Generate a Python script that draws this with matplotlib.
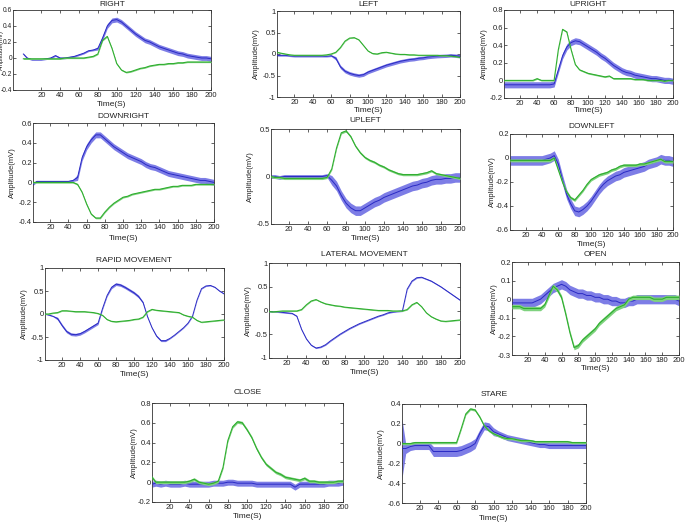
import numpy as np
import matplotlib
matplotlib.use("Agg")
import matplotlib.pyplot as plt

plt.rcParams['font.family'] = ['Liberation Sans', 'DejaVu Sans']
plt.rcParams['axes.unicode_minus'] = False

# time samples (s)
T = [1, 5, 10, 15, 20, 25, 30, 35, 40, 45, 50, 55, 60, 65, 70, 75, 80, 85, 90, 95, 100,
     105, 110, 115, 120, 125, 130, 135, 140, 145, 150, 155, 160, 165, 170, 175, 180,
     185, 190, 195, 200]

XTICKS = [20, 40, 60, 80, 100, 120, 140, 160, 180, 200]

# ---------------- RIGHT ----------------
right_blue = [0.05, 0.0, -0.02, -0.02, -0.02, -0.01, 0.0, 0.03, 0.0, 0.0, 0.01, 0.02, 0.04, 0.06,
              0.09, 0.1, 0.12, 0.25, 0.4, 0.47, 0.48, 0.45, 0.4, 0.35, 0.3, 0.26, 0.22, 0.2,
              0.17, 0.14, 0.12, 0.1, 0.08, 0.06, 0.05, 0.03, 0.02, 0.01, 0.0, 0.0, -0.01]
right_blue_band = [0.01, 0.01, 0.01, 0.01, 0.01, 0.01, 0.01, 0.01, 0.01, 0.01, 0.01, 0.01, 0.01,
                   0.01, 0.01, 0.01, 0.02, 0.03, 0.03, 0.03, 0.03, 0.03, 0.03, 0.03, 0.03, 0.03,
                   0.03, 0.03, 0.03, 0.03, 0.03, 0.03, 0.03, 0.03, 0.03, 0.03, 0.03, 0.03, 0.03,
                   0.03, 0.03]
right_green = [-0.01, -0.01, -0.01, -0.01, -0.01, -0.01, -0.01, -0.01, -0.01, 0.0, 0.0, 0.0, 0.0,
               0.0, 0.01, 0.02, 0.05, 0.22, 0.27, 0.12, -0.07, -0.15, -0.18, -0.17, -0.15, -0.13,
               -0.12, -0.1, -0.09, -0.08, -0.08, -0.07, -0.07, -0.06, -0.06, -0.05, -0.05, -0.05,
               -0.05, -0.05, -0.05]

# ---------------- LEFT ----------------
left_blue = [-0.03, -0.03, -0.03, -0.04, -0.05, -0.05, -0.05, -0.05, -0.05, -0.05, -0.05, -0.05,
             -0.04, -0.1, -0.3, -0.4, -0.45, -0.48, -0.5, -0.48, -0.42, -0.38, -0.34, -0.3, -0.26,
             -0.23, -0.2, -0.17, -0.15, -0.13, -0.12, -0.1, -0.09, -0.07, -0.06, -0.05, -0.045,
             -0.04, -0.03, -0.04, -0.05]
left_blue_band = [0.02, 0.02, 0.02, 0.02, 0.02, 0.02, 0.02, 0.02, 0.02, 0.02, 0.02, 0.02, 0.02,
                  0.04, 0.04, 0.04, 0.04, 0.04, 0.04, 0.04, 0.04, 0.04, 0.04, 0.04, 0.04, 0.04,
                  0.04, 0.04, 0.04, 0.04, 0.04, 0.04, 0.04, 0.04, 0.04, 0.04, 0.04, 0.04, 0.04,
                  0.04, 0.04]
left_green = [0.04, 0.02, 0.0, -0.02, -0.03, -0.03, -0.03, -0.03, -0.03, -0.03, -0.03, -0.02, 0.0,
              0.04, 0.15, 0.3, 0.37, 0.38, 0.33, 0.2, 0.07, 0.01, 0.0, 0.03, 0.04, 0.02, 0.0,
              -0.01, -0.01, -0.02, -0.02, -0.03, -0.03, -0.03, -0.03, -0.03, -0.04, -0.04, -0.05,
              -0.06, -0.08]

# ---------------- UPRIGHT ----------------
upright_blue = [-0.05, -0.05, -0.05, -0.05, -0.05, -0.05, -0.05, -0.05, -0.05, -0.05, -0.05, -0.05,
                -0.04, 0.12, 0.28, 0.38, 0.43, 0.45, 0.44, 0.41, 0.38, 0.35, 0.32, 0.28, 0.25,
                0.21, 0.17, 0.14, 0.11, 0.09, 0.08, 0.06, 0.05, 0.04, 0.03, 0.02, 0.02, 0.01,
                0.0, 0.0, -0.01]
upright_green = [0.0, 0.0, 0.0, 0.0, 0.0, 0.0, 0.0, 0.0, 0.02, 0.0, 0.0, 0.0, 0.0, 0.35, 0.58,
                 0.55, 0.35, 0.18, 0.12, 0.1, 0.08, 0.07, 0.06, 0.05, 0.04, 0.05, 0.02, 0.02,
                 0.02, 0.02, 0.02, 0.01, 0.01, 0.01, 0.0, 0.0, 0.0, 0.0, -0.01, 0.0, 0.0]

# ---------------- DOWNRIGHT ----------------
downright_blue = [-0.02, 0.01, 0.01, 0.01, 0.01, 0.01, 0.01, 0.01, 0.01, 0.02, 0.05, 0.25, 0.36,
                  0.43, 0.48, 0.48, 0.44, 0.4, 0.36, 0.33, 0.3, 0.27, 0.25, 0.23, 0.21, 0.18,
                  0.16, 0.15, 0.13, 0.11, 0.09, 0.08, 0.07, 0.06, 0.05, 0.04, 0.03, 0.02, 0.02,
                  0.01, 0.0]
downright_blue_band = [0.01, 0.01, 0.01, 0.01, 0.01, 0.01, 0.01, 0.01, 0.01, 0.01, 0.03, 0.03,
                       0.03, 0.03, 0.03, 0.03, 0.03, 0.03, 0.03, 0.03, 0.03, 0.03, 0.03, 0.03,
                       0.03, 0.03, 0.03, 0.03, 0.03, 0.03, 0.03, 0.03, 0.03, 0.03, 0.03, 0.03,
                       0.03, 0.03, 0.03, 0.03, 0.03]
downright_green = [0.0, 0.0, 0.0, 0.0, 0.0, 0.0, 0.0, 0.0, 0.0, 0.0, -0.02, -0.1, -0.22, -0.32,
                   -0.36, -0.36, -0.3, -0.25, -0.21, -0.18, -0.15, -0.14, -0.12, -0.11, -0.1,
                   -0.09, -0.08, -0.07, -0.07, -0.06, -0.05, -0.04, -0.04, -0.03, -0.03, -0.03,
                   -0.02, -0.02, -0.02, -0.02, -0.02]

# ---------------- UPLEFT ----------------
upleft_blue = [0.0, 0.0, -0.01, 0.0, 0.0, 0.0, 0.0, 0.0, 0.0, 0.0, 0.0, 0.0, 0.01, -0.04, -0.1,
               -0.2, -0.28, -0.33, -0.36, -0.36, -0.33, -0.3, -0.27, -0.25, -0.22, -0.2, -0.18,
               -0.16, -0.14, -0.12, -0.1, -0.09, -0.07, -0.06, -0.04, -0.03, -0.03, -0.02, -0.02,
               -0.01, -0.01]
upleft_blue_band = [0.02, 0.02, 0.02, 0.02, 0.02, 0.02, 0.02, 0.02, 0.02, 0.02, 0.02, 0.02, 0.02,
                    0.05, 0.05, 0.05, 0.05, 0.05, 0.05, 0.05, 0.05, 0.05, 0.05, 0.05, 0.05, 0.05,
                    0.05, 0.05, 0.05, 0.05, 0.05, 0.05, 0.05, 0.05, 0.05, 0.05, 0.05, 0.05, 0.05,
                    0.05, 0.05]
upleft_green = [0.0, -0.01, -0.01, -0.02, -0.02, -0.02, -0.02, -0.02, -0.02, -0.02, -0.02, -0.02,
                -0.01, 0.08, 0.3, 0.46, 0.48, 0.42, 0.32, 0.25, 0.2, 0.17, 0.15, 0.12, 0.1, 0.07,
                0.05, 0.03, 0.02, 0.02, 0.02, 0.02, 0.03, 0.04, 0.06, 0.03, 0.02, 0.01, 0.0,
                -0.01, -0.02]

# ---------------- DOWNLEFT ----------------
downleft_blue = [-0.02, -0.02, -0.02, -0.02, -0.02, -0.02, -0.02, -0.02, -0.02, -0.01, 0.0, 0.02,
                 -0.05, -0.18, -0.3, -0.38, -0.44, -0.45, -0.43, -0.4, -0.36, -0.31, -0.26, -0.22,
                 -0.19, -0.17, -0.15, -0.14, -0.12, -0.11, -0.1, -0.09, -0.08, -0.07, -0.05,
                 -0.04, -0.03, -0.01, -0.02, -0.02, -0.03]
downleft_green = [-0.02, -0.02, -0.02, -0.02, -0.02, -0.02, -0.02, -0.02, -0.02, -0.02, -0.02,
                  0.0, -0.1, -0.2, -0.28, -0.33, -0.35, -0.31, -0.27, -0.22, -0.18, -0.16, -0.14,
                  -0.13, -0.12, -0.1, -0.09, -0.07, -0.06, -0.06, -0.06, -0.06, -0.05, -0.05,
                  -0.04, -0.03, -0.02, -0.01, -0.03, -0.03, -0.03]

# ---------------- RAPID MOVEMENT ----------------
rapid_blue = [0.0, -0.02, -0.05, -0.1, -0.25, -0.38, -0.44, -0.45, -0.43, -0.38, -0.32, -0.26,
              -0.2, 0.12, 0.4, 0.58, 0.65, 0.63, 0.58, 0.52, 0.46, 0.38, 0.25, -0.06, -0.3, -0.48,
              -0.58, -0.58, -0.53, -0.46, -0.38, -0.3, -0.2, -0.05, 0.3, 0.55, 0.61, 0.62, 0.58,
              0.5, 0.44]
rapid_blue_band = [0.01, 0.01, 0.01, 0.03, 0.03, 0.03, 0.03, 0.03, 0.03, 0.03, 0.03, 0.03, 0.03,
                   0.02, 0.02, 0.03, 0.03, 0.03, 0.03, 0.03, 0.03, 0.03, 0.02, 0.01, 0.01, 0.02,
                   0.02, 0.02, 0.01, 0.01, 0.01, 0.01, 0.01, 0.01, 0.01, 0.01, 0.01, 0.01, 0.01,
                   0.01, 0.01]
rapid_green = [0.0, 0.0, 0.02, 0.03, 0.07, 0.07, 0.06, 0.05, 0.05, 0.05, 0.04, 0.03, 0.01, -0.03,
               -0.12, -0.16, -0.17, -0.16, -0.15, -0.14, -0.12, -0.11, -0.07, 0.05, 0.1, 0.08,
               0.07, 0.06, 0.05, 0.04, 0.03, -0.02, -0.05, -0.07, -0.14, -0.18, -0.17, -0.16,
               -0.15, -0.14, -0.13]

# ---------------- LATERAL MOVEMENT ----------------
lateral_blue = [-0.02, -0.03, -0.03, -0.04, -0.05, -0.06, -0.12, -0.4, -0.6, -0.73, -0.79, -0.77,
                -0.72, -0.64, -0.57, -0.5, -0.44, -0.38, -0.33, -0.28, -0.24, -0.2, -0.16, -0.12,
                -0.09, -0.05, -0.03, -0.02, -0.01, 0.45, 0.62, 0.69, 0.7, 0.66, 0.62, 0.56, 0.5,
                0.43, 0.36, 0.29, 0.22]
lateral_green = [-0.02, -0.03, -0.02, -0.01, -0.01, -0.01, -0.01, 0.02, 0.12, 0.2, 0.23, 0.18,
                 0.14, 0.12, 0.1, 0.09, 0.07, 0.06, 0.05, 0.04, 0.03, 0.02, 0.01, 0.0, 0.0, 0.0,
                 -0.01, -0.01, -0.01, 0.02, 0.12, 0.17, 0.08, -0.05, -0.13, -0.18, -0.22, -0.23,
                 -0.22, -0.21, -0.2]

# ---------------- OPEN ----------------
open_blue = [-0.02, -0.02, -0.02, -0.02, -0.02, -0.02, -0.01, 0.0, 0.02, 0.04, 0.06, 0.07, 0.08,
             0.07, 0.05, 0.04, 0.03, 0.03, 0.02, 0.02, 0.01, 0.01, 0.0, 0.0, -0.01, -0.01, -0.02,
             -0.02, -0.01, -0.01, 0.0, 0.0, 0.0, 0.0, 0.0, 0.0, 0.0, 0.0, 0.0, 0.0, -0.01]
open_green = [-0.04, -0.04, -0.04, -0.05, -0.05, -0.05, -0.05, -0.05, -0.03, 0.02, 0.07, 0.05,
              0.01, -0.08, -0.18, -0.26, -0.25, -0.22, -0.2, -0.18, -0.16, -0.13, -0.11, -0.09,
              -0.07, -0.05, -0.04, -0.03, 0.0, 0.01, 0.01, 0.01, 0.01, 0.01, 0.0, 0.0, 0.0, 0.01,
              0.01, 0.01, 0.01]

# ---------------- CLOSE ----------------
close_blue = [-0.02, -0.01, -0.02, -0.01, -0.02, -0.02, -0.02, -0.01, -0.02, -0.02, -0.02, -0.02,
              -0.02, -0.01, -0.01, -0.01, 0.0, 0.0, -0.01, -0.01, -0.01, -0.01, -0.02, -0.02,
              -0.02, -0.02, -0.02, -0.02, -0.02, -0.02, -0.05, -0.02, -0.02, -0.02, -0.02, -0.02,
              -0.02, -0.01, -0.01, -0.01, 0.0]
close_green = [0.05, 0.0, 0.0, 0.0, 0.0, 0.0, 0.0, 0.0, 0.01, 0.03, 0.0, -0.01, -0.02, -0.01,
               0.01, 0.15, 0.42, 0.56, 0.61, 0.6, 0.53, 0.45, 0.34, 0.25, 0.18, 0.14, 0.1, 0.08,
               0.05, 0.04, 0.03, 0.02, 0.04, 0.01, 0.01, 0.0, 0.0, 0.0, 0.0, 0.01, 0.01]

# ---------------- STARE ----------------
stare_blue = [-0.05, -0.05, -0.03, -0.02, -0.02, -0.02, -0.02, -0.08, -0.08, -0.08, -0.08, -0.08,
              -0.08, -0.07, -0.05, -0.03, 0.0, 0.1, 0.18, 0.17, 0.12, 0.1, 0.08, 0.06, 0.05, 0.04,
              0.03, 0.02, 0.01, 0.0, -0.01, -0.01, -0.02, -0.02, -0.02, -0.02, -0.02, -0.02,
              -0.02, -0.02, -0.02]
stare_blue_band = [0.3, 0.05, 0.04, 0.04, 0.04, 0.04, 0.04, 0.05, 0.05, 0.05, 0.05, 0.05, 0.05,
                   0.05, 0.05, 0.05, 0.05, 0.04, 0.04, 0.04, 0.04, 0.03, 0.03, 0.03, 0.03, 0.03,
                   0.03, 0.03, 0.03, 0.03, 0.03, 0.03, 0.03, 0.03, 0.03, 0.03, 0.03, 0.03, 0.03,
                   0.03, 0.03]
stare_green = [0.0, 0.0, 0.0, 0.01, 0.01, 0.01, 0.01, 0.01, 0.01, 0.01, 0.01, 0.01, 0.01, 0.15,
               0.3, 0.35, 0.34, 0.27, 0.18, 0.13, 0.1, 0.08, 0.06, 0.05, 0.05, 0.04, 0.03, 0.03,
               0.03, 0.02, 0.02, 0.02, 0.02, 0.02, 0.02, 0.02, 0.02, 0.01, 0.01, 0.01, 0.01]

# panel layout: title, box (L, T, R, B in px), ylim, yticks, data, label positions (px)
panels = [
    dict(title='RIGHT', box=(13, 10, 211, 90), xlim=(-10, 200), ylim=(-0.4, 0.6),
         yticks=[-0.4, -0.2, 0, 0.2, 0.4, 0.6], blue=right_blue, bband=right_blue_band,
         green=right_green, gband=0.008, tit_y=4, xl_y=105, yl_x=1.6, tfs=4.8, ylfs=4.3),
    dict(title='LEFT', box=(277, 11, 460, 97), xlim=(1, 200), ylim=(-1, 1),
         yticks=[-1, -0.5, 0, 0.5, 1], blue=left_blue, bband=left_blue_band,
         green=left_green, gband=0.01, tit_y=4, xl_y=110, yl_x=256, tfs=5.5, ylfs=5.5),
    dict(title='UPRIGHT', box=(504, 10, 673, 98), xlim=(1, 200), ylim=(-0.2, 0.8),
         yticks=[-0.2, 0, 0.2, 0.4, 0.6, 0.8], blue=upright_blue, bband=0.035,
         green=upright_green, gband=0.008, tit_y=4, xl_y=110, yl_x=484, tfs=5.5, ylfs=5.5),
    dict(title='DOWNRIGHT', box=(33, 123, 214, 222), xlim=(1, 200), ylim=(-0.4, 0.6),
         yticks=[-0.4, -0.2, 0, 0.2, 0.4, 0.6], blue=downright_blue, bband=downright_blue_band,
         green=downright_green, gband=0.008, tit_y=116, xl_y=239, yl_x=12, tfs=5.5, ylfs=5.5),
    dict(title='UPLEFT', box=(271, 129, 460, 224), xlim=(1, 200), ylim=(-0.5, 0.5),
         yticks=[-0.5, 0, 0.5], blue=upleft_blue, bband=upleft_blue_band,
         green=upleft_green, gband=0.012, tit_y=120, xl_y=239, yl_x=250, tfs=5.5, ylfs=5.5),
    dict(title='DOWNLEFT', box=(510, 134, 673, 230), xlim=(1, 200), ylim=(-0.6, 0.2),
         yticks=[-0.6, -0.4, -0.2, 0, 0.2], blue=downleft_blue, bband=0.04,
         green=downleft_green, gband=0.012, tit_y=127, xl_y=244, yl_x=492, tfs=5.5, ylfs=5.5),
    dict(title='RAPID MOVEMENT', box=(45, 268, 224, 360), xlim=(1, 200), ylim=(-1, 1),
         yticks=[-1, -0.5, 0, 0.5, 1], blue=rapid_blue, bband=rapid_blue_band,
         green=rapid_green, gband=0.01, tit_y=260, xl_y=374, yl_x=24, tfs=5.5, ylfs=5.5),
    dict(title='LATERAL MOVEMENT', box=(269, 263, 460, 358), xlim=(1, 200), ylim=(-1, 1),
         yticks=[-1, -0.5, 0, 0.5, 1], blue=lateral_blue, bband=0.012,
         green=lateral_green, gband=0.01, tit_y=254, xl_y=372, yl_x=248, tfs=5.5, ylfs=5.5),
    dict(title='OPEN', box=(512, 262, 679, 355), xlim=(1, 200), ylim=(-0.3, 0.2),
         yticks=[-0.3, -0.2, -0.1, 0, 0.1, 0.2], blue=open_blue, bband=0.025,
         green=open_green, gband=0.012, tit_y=254, xl_y=368, yl_x=494, tfs=5.5, ylfs=5.5),
    dict(title='CLOSE', box=(152, 403, 343, 502), xlim=(1, 200), ylim=(-0.2, 0.8),
         yticks=[-0.2, 0, 0.2, 0.4, 0.6, 0.8], blue=close_blue, bband=0.03,
         green=close_green, gband=0.015, tit_y=393, xl_y=517, yl_x=134, tfs=5.5, ylfs=5.5),
    dict(title='STARE', box=(402, 404, 586, 503), xlim=(1, 200), ylim=(-0.6, 0.4),
         yticks=[-0.6, -0.4, -0.2, 0, 0.2, 0.4], blue=stare_blue, bband=stare_blue_band,
         green=stare_green, gband=0.012, tit_y=395, xl_y=519, yl_x=381, tfs=5.5, ylfs=5.5),
]

W, H = 685, 524
BLUE, BLUE_BAND = '#2a2ac4', '#7d7de6'
GREEN, GREEN_BAND = '#2fae2f', '#7fd27f'

fig = plt.figure(figsize=(W / 100, H / 100), dpi=100)
fig.patch.set_facecolor('white')

for p in panels:
    L, Tp, R, B = p['box']
    ax = fig.add_axes([L / W, 1 - B / H, (R - L) / W, (B - Tp) / H])
    t = np.array(T, dtype=float)
    b = np.array(p['blue'], dtype=float)
    bb = np.broadcast_to(np.array(p['bband'], dtype=float), b.shape)
    g = np.array(p['green'], dtype=float)
    gb = np.broadcast_to(np.array(p['gband'], dtype=float), g.shape)
    ax.fill_between(t, b - bb, b + bb, color=BLUE_BAND, lw=0, zorder=2)
    ax.plot(t, b, color=BLUE, lw=0.7, zorder=3)
    ax.fill_between(t, g - gb, g + gb, color=GREEN_BAND, lw=0, zorder=4)
    ax.plot(t, g, color=GREEN, lw=0.8, zorder=5)

    ax.set_xlim(*p['xlim'])
    ax.set_ylim(*p['ylim'])
    ax.set_xticks(XTICKS)
    ax.set_xticklabels([f'{v:g}' for v in XTICKS])
    ax.set_yticks(p['yticks'])
    ax.set_yticklabels([f'{v:g}' for v in p['yticks']])
    ax.tick_params(direction='in', length=2, width=0.5, top=True, right=True,
                   labelsize=5.5, pad=1.5, colors='#222222')
    ax.tick_params(axis='y', labelsize=p['tfs'], pad=0.8)
    for s in ax.spines.values():
        s.set_linewidth(0.6)
        s.set_color('#333333')

    h = B - Tp
    w = R - L
    ax.text(0.5, 1 + (Tp - p['tit_y']) / h, p['title'], transform=ax.transAxes,
            ha='center', va='center', fontsize=6, color='#222222')
    ax.set_xlabel('Time(S)', fontsize=6, color='#222222')
    ax.xaxis.set_label_coords(0.5, -(p['xl_y'] - B) / h)
    ax.xaxis.label.set_va('center')
    ax.set_ylabel('Amplitude(mV)', fontsize=p['ylfs'], color='#222222')
    ax.yaxis.set_label_coords((p['yl_x'] - L) / w, 0.5)
    ax.yaxis.label.set_va('center')

fig.savefig('out.png', dpi=100)
